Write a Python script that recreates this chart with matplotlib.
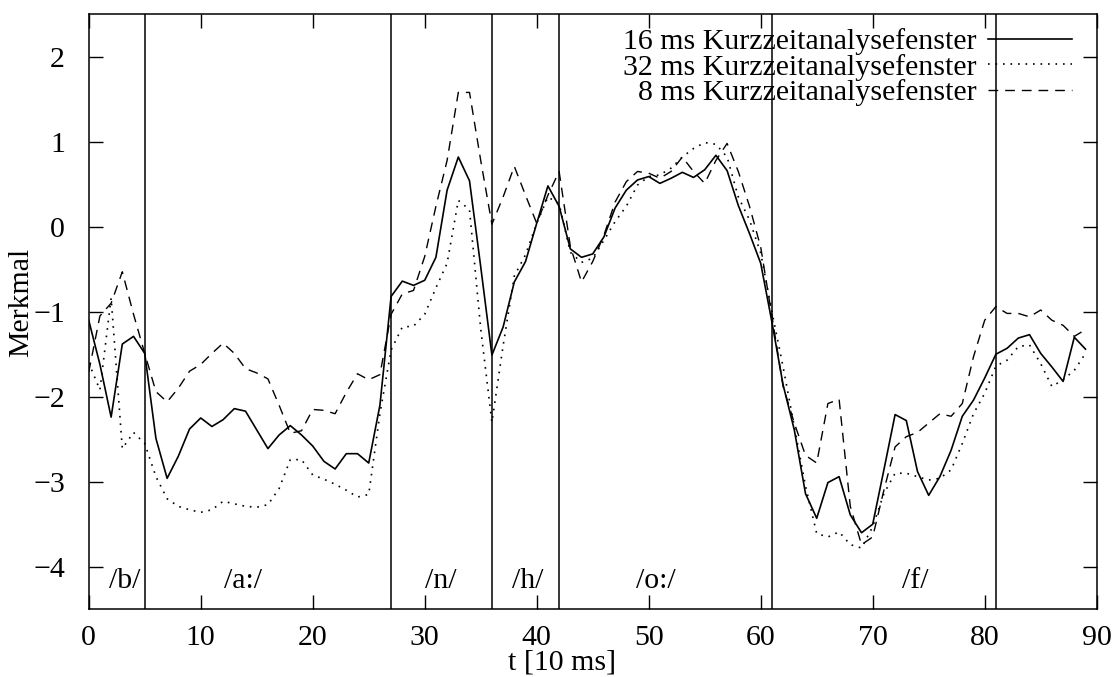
import numpy as np
import matplotlib
matplotlib.use("Agg")
import matplotlib.pyplot as plt

plt.rcParams.update({"font.family": "Liberation Serif", "font.size": 21.5,
                     "axes.linewidth": 1.1, "axes.unicode_minus": True})

t = np.arange(90)

win16 = [-1.10, -1.62, -2.24, -1.38, -1.29, -1.49, -2.49, -2.96, -2.70, -2.38,
         -2.25, -2.35, -2.27, -2.14, -2.17, -2.39, -2.61, -2.45, -2.34, -2.45,
         -2.58, -2.76, -2.85, -2.67, -2.67, -2.78, -2.10, -0.82, -0.64, -0.69,
         -0.63, -0.36, 0.43, 0.82, 0.54, -0.47, -1.51, -1.18, -0.65, -0.41,
         0.04, 0.48, 0.24, -0.26, -0.36, -0.32, -0.12, 0.22, 0.43, 0.55,
         0.59, 0.51, 0.57, 0.64, 0.58, 0.67, 0.84, 0.66, 0.25, -0.08,
         -0.43, -1.12, -1.86, -2.39, -3.14, -3.43, -3.01, -2.94, -3.39, -3.60,
         -3.50, -2.86, -2.21, -2.28, -2.88, -3.16, -2.94, -2.63, -2.23, -2.04,
         -1.78, -1.50, -1.43, -1.31, -1.27, -1.49, -1.65, -1.82, -1.30, -1.44]

win32 = [-1.60, -1.92, -0.84, -2.61, -2.42, -2.55, -2.94, -3.20, -3.29, -3.33,
         -3.36, -3.33, -3.23, -3.26, -3.29, -3.30, -3.27, -3.08, -2.74, -2.74,
         -2.92, -2.97, -3.03, -3.10, -3.18, -3.15, -2.20, -1.45, -1.18, -1.17,
         -1.03, -0.72, -0.43, 0.31, 0.20, -1.20, -2.30, -1.40, -0.58, -0.33,
         0.04, 0.35, 0.27, -0.30, -0.42, -0.37, -0.16, 0.06, 0.24, 0.49,
         0.59, 0.61, 0.69, 0.82, 0.92, 0.99, 0.97, 0.82, 0.35, 0.08,
         -0.31, -1.00, -1.65, -2.35, -3.05, -3.61, -3.65, -3.59, -3.74, -3.78,
         -3.53, -3.14, -2.90, -2.90, -2.94, -2.98, -2.96, -2.86, -2.55, -2.20,
         -1.96, -1.64, -1.57, -1.41, -1.39, -1.61, -1.88, -1.80, -1.69, -1.49]

win8 = [-1.71, -1.05, -0.90, -0.53, -1.03, -1.49, -1.94, -2.06, -1.90, -1.70,
        -1.62, -1.49, -1.37, -1.49, -1.67, -1.72, -1.79, -2.10, -2.43, -2.40,
        -2.15, -2.16, -2.20, -1.95, -1.73, -1.80, -1.74, -1.03, -0.79, -0.75,
        -0.35, 0.24, 0.78, 1.58, 1.58, 0.78, 0.03, 0.35, 0.71, 0.37,
        0.04, 0.37, 0.65, -0.23, -0.65, -0.41, -0.10, 0.29, 0.53, 0.65,
        0.63, 0.57, 0.65, 0.82, 0.65, 0.51, 0.78, 0.98, 0.65, 0.24,
        -0.24, -1.05, -1.88, -2.31, -2.69, -2.78, -2.08, -2.03, -3.29, -3.74,
        -3.65, -3.10, -2.59, -2.47, -2.42, -2.31, -2.20, -2.23, -2.08, -1.53,
        -1.10, -0.94, -1.02, -1.02, -1.06, -0.98, -1.10, -1.16, -1.29, -1.21]

boundaries = [5, 27, 36, 42, 61, 81]
phonemes = ["/b/", "/a:/", "/n/", "/h/", "/o:/", "/f/"]
phoneme_x = [3.2, 13.8, 31.4, 39.2, 50.6, 73.8]

fig = plt.figure(figsize=(11.16, 6.77), dpi=100)
ax = fig.add_axes([0.0795, 0.1001, 0.9032, 0.8789])

ax.plot(t, win16, color="black", lw=1.2, label="16 ms Kurzzeitanalysefenster")
ax.plot(t, win32, color="black", lw=1.2, ls=(0, (1, 3.5)), label="32 ms Kurzzeitanalysefenster")
ax.plot(t, win8, color="black", lw=1.0, ls=(0, (7, 5)), label="8 ms Kurzzeitanalysefenster")

for b in boundaries:
    ax.axvline(b, color="black", lw=1.1)
for name, xp in zip(phonemes, phoneme_x):
    ax.text(xp, -4.17, name, ha="center", va="center")

ax.set_xlim(0, 90)
ax.set_ylim(-4.5, 2.5)
ax.set_xticks(range(0, 91, 10))
ax.set_yticks(range(-4, 3))
ax.tick_params(direction="in", length=10, width=1.0, top=True, right=True)
ax.tick_params(axis="x", pad=11)
ax.tick_params(axis="y", pad=17)
ax.set_xlabel("t [10 ms]")
ax.xaxis.set_label_coords(0.4695, -0.068)
ax.set_ylabel("Merkmal")
ax.yaxis.set_label_coords(-0.054, 0.516)

ax.legend(loc="upper right", bbox_to_anchor=(0.9755, 0.976), frameon=False,
          markerfirst=False, handlelength=2.8, handletextpad=0.4,
          labelspacing=-0.05, borderpad=0, borderaxespad=0)

fig.savefig("out.png", dpi=100)
